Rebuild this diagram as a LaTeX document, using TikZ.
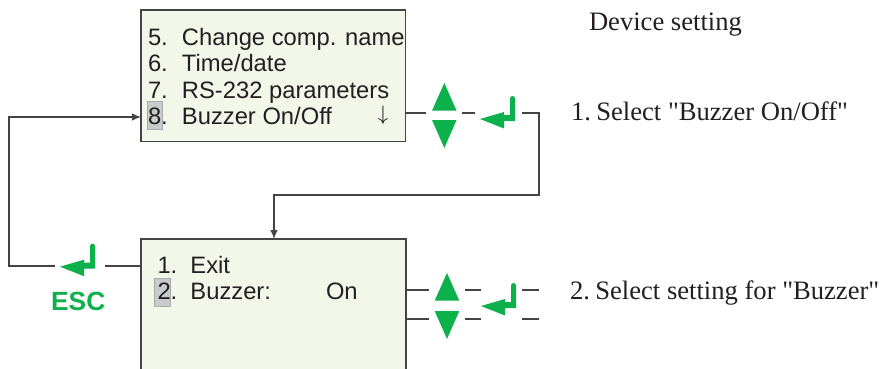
\documentclass[tikz,border=0pt]{standalone}
\usepackage{fontspec}
\setmainfont{Liberation Serif}
\setsansfont{Liberation Sans}
\newfontfamily\plainserif{Liberation Serif}
\usetikzlibrary{arrows.meta,calc}
\definecolor{lcdfill}{HTML}{F3F7E9}
\definecolor{keygreen}{HTML}{0DB14B}
\definecolor{inkdark}{HTML}{231F20}
\definecolor{edgegray}{HTML}{444444}
\definecolor{cursorfill}{HTML}{C9CACC}
\definecolor{cursoredge}{HTML}{A9ABAE}
\newcommand{\uptri}[2]{\fill[keygreen] (#1,#2) -- ++(-12.3,27.7) -- ++(24.6,0) -- cycle;}
\newcommand{\downtri}[2]{\fill[keygreen] (#1,#2) -- ++(-12.3,-28) -- ++(24.6,0) -- cycle;}
\newcommand{\enterkey}[2]{\fill[keygreen,shift={(#1,#2)}] (0,0) -- (24,-7) -- (24,-4) -- (30,-4) -- (30,-20.5) arc[start angle=180,end angle=360,radius=2.5] -- (35,2) -- (24,2) -- (24,9.5) -- cycle;}
\tikzset{
  x=1pt,y=-1pt,
  lcd/.style={draw=edgegray,line width=1.3pt,fill=lcdfill,inner sep=0pt,outer sep=0pt,anchor=north west},
  keyslot/.style={inner sep=0pt,outer sep=0pt,minimum height=4pt},
  cursor/.style={draw=cursoredge,line width=.8pt,fill=cursorfill},
  menu/.style={anchor=base west,inner sep=0pt,outer sep=0pt,text=inkdark,font=\sffamily\fontsize{23.75}{24}\selectfont},
  note/.style={anchor=base west,inner sep=0pt,outer sep=0pt,text=inkdark,font=\plainserif\fontsize{26.6}{27}\selectfont},
  wire/.style={draw=edgegray,line width=1.05pt},
  wirehead/.style={wire,-{Latex[length=9pt,width=7.5pt]}}
}
\newcommand{\numcol}[2]{\makebox[#1][l]{#2}}
\begin{document}
\begin{tikzpicture}
\useasboundingbox (0,0) rectangle (880,369);
\clip (0,0) rectangle (880,369);
% displays
\node[lcd,minimum width=264.5pt,minimum height=131.5pt] (top) at (141,10) {};
\node[lcd,minimum width=265pt,minimum height=140pt] (bot) at (141,239) {};
% cursors
\fill[cursor] (147,101) rectangle (162,129);
\fill[cursor] (154.5,278) rectangle (170,306);
% menu text
\node[menu] (m5) at (148,45.6) {\numcol{34pt}{5.}Change comp. name};
\node[menu] (m6) at (148,71.6) {\numcol{34pt}{6.}Time/date};
\node[menu] (m7) at (148,98.6) {\numcol{34pt}{7.}RS-232 parameters};
\node[menu] (m8) at (148,124.4) {\numcol{34pt}{8.}Buzzer On/Off};
\node[anchor=base,inner sep=0pt,text=black,font=\fontsize{20}{20}\selectfont] (more) at (383,120.5) {$\downarrow$};
\node[menu] (b1) at (157.5,273.7) {\numcol{33pt}{1.}Exit};
\node[menu] (b2) at (157.5,299.7) {\numcol{33pt}{2.}Buzzer:};
\node[menu] (b3) at (326,299.7) {On};
% key slots
\node[keyslot,minimum width=36pt] (upa) at (444,113) {};
\node[keyslot,minimum width=47pt] (enta) at (498.5,113) {};
\node[keyslot,minimum width=36pt] (upb) at (447,290) {};
\node[keyslot,minimum width=36pt] (downb) at (447,319) {};
\node[keyslot,minimum width=41pt] (entb) at (501.5,304.5) {};
\node[keyslot,minimum width=50pt] (esc) at (80,266) {};
\coordinate (enda) at (539,290);
\coordinate (endb) at (539,319);
% key glyphs
\uptri{444.3}{83}
\downtri{444.3}{148}
\enterkey{480}{119}
\uptri{447}{273}
\downtri{447}{339}
\enterkey{481}{306}
\enterkey{60}{266.7}
\node[anchor=base west,inner sep=0pt,text=keygreen,font=\sffamily\bfseries\fontsize{26.3}{27}\selectfont] (esclabel) at (51,310) {ESC};
% connectors
\draw[wire] (top.east |- upa) -- (upa.west);
\draw[wire] (upa.east) -- (enta.west);
\draw[wirehead] (enta.east) -- (539,113) -- (539,195) -- (274,195) -- (274,239);
\draw[wire] (bot.west |- esc) -- (esc.east);
\draw[wirehead] (esc.west) -- (9,266) -- (9,117) -- (top.west |- 0,117);
\draw[wire] (bot.east |- upb) -- (upb.west);
\draw[wire] (bot.east |- downb) -- (downb.west);
\draw[wire] (upb.east) -- (entb.west |- upb);
\draw[wire] (downb.east) -- (entb.west |- downb);
\draw[wire] (entb.east |- enda) -- (enda);
\draw[wire] (entb.east |- endb) -- (endb);
% notes
\node[note] (n0) at (589,31) {Device setting};
\node[note] (n1) at (571,120) {1.\hspace{5.4pt}Select "Buzzer On/Off"};
\node[note] (n2) at (570,299) {2.\hspace{5.4pt}Select setting for "Buzzer"};
\end{tikzpicture}
\end{document}
